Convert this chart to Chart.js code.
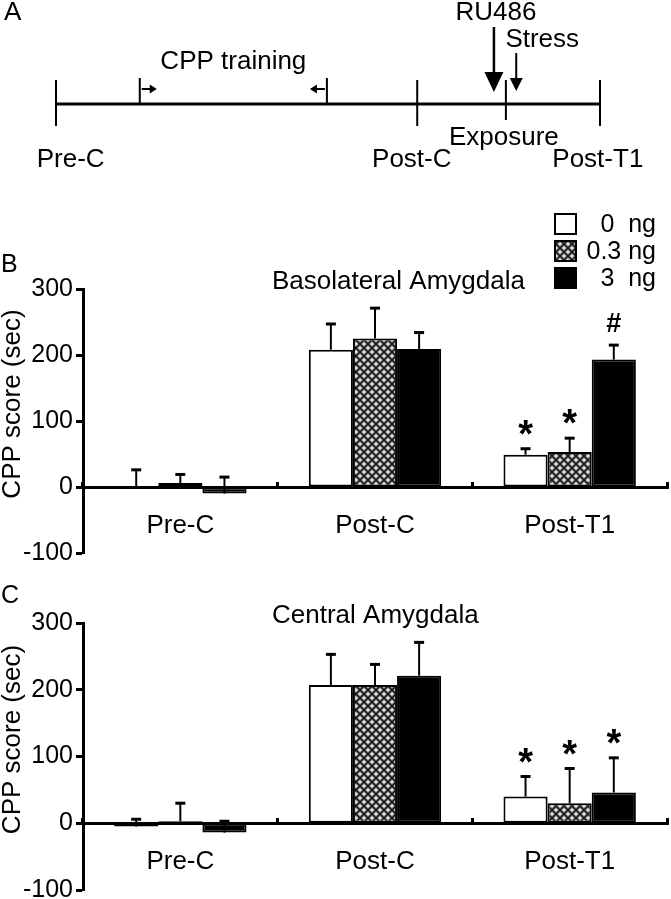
<!DOCTYPE html>
<html>
<head>
<meta charset="utf-8">
<script src="https://cdn.jsdelivr.net/npm/chart.js@4.4.1/dist/chart.umd.min.js"></script>
<style>
html,body{margin:0;padding:0;background:#fff;width:671px;height:899px;overflow:hidden;}
canvas{position:absolute;left:0;display:block;}
#cA{top:0;} #cB{top:200px;} #cC{top:570px;}
</style>
</head>
<body>
<canvas id="cA" width="671" height="200"></canvas>
<canvas id="cB" width="671" height="370"></canvas>
<canvas id="cC" width="671" height="329"></canvas>
<script>
// ---------------- data ----------------
const categories = ['Pre-C', 'Post-C', 'Post-T1'];
const doseLabels = ['0  ng', '0.3 ng', '3  ng'];
const yMin = -100, yMax = 300, yStep = 100;
const yAxisTitle = 'CPP score (sec)';

// Panel B: Basolateral Amygdala
const blaTitle = 'Basolateral Amygdala';
const blaMean0  = [0, 208, 49];
const blaErr0   = [26, 39, 9];
const blaMean03 = [6, 225, 53];
const blaErr03  = [13, 46, 21];
const blaMean3  = [-10, 209, 193];
const blaErr3   = [25, 25, 22];
const blaMarks0  = ['', '', '*'];
const blaMarks03 = ['', '', '*'];
const blaMarks3  = ['', '', '#'];

// Panel C: Central Amygdala
const ceaTitle = 'Central Amygdala';
const ceaMean0  = [-5, 207, 40];
const ceaErr0   = [11, 46, 30];
const ceaMean03 = [3, 207, 30];
const ceaErr03  = [27, 31, 52];
const ceaMean3  = [-14, 221, 46];
const ceaErr3   = [17, 50, 52];
const ceaMarks0  = ['', '', '*'];
const ceaMarks03 = ['', '', '*'];
const ceaMarks3  = ['', '', '*'];

// Panel A: timeline (arbitrary time units 0..100)
const phaseNames = ['Pre-C', 'Post-C', 'Post-T1'];
const phaseDays = [0, 66.4, 100];
const phaseLabelDays = [2.7, 65.4, 99.6];
const trainingDays = [15.4, 49.8];
const ru486Day = 80.5;
const exposureDay = 82.7;
const stressDay = 84.6;

// ---------------- setup ----------------
const FONT = '"Liberation Sans", Arial, Helvetica, sans-serif';
Chart.defaults.font.family = FONT;
Chart.defaults.font.size = 25;
Chart.defaults.color = '#000';

function crossPattern() {
  const s = 8;
  const c = document.createElement('canvas');
  c.width = s; c.height = s;
  const g = c.getContext('2d');
  g.fillStyle = '#8a8a8a';
  g.fillRect(0, 0, s, s);
  g.strokeStyle = '#111';
  g.lineWidth = 1.4;
  g.beginPath();
  g.moveTo(-1, -1); g.lineTo(s + 1, s + 1);
  g.moveTo(s + 1, -1); g.lineTo(-1, s + 1);
  g.stroke();
  g.fillStyle = '#fff';
  [[s / 2, 0], [0, s / 2], [s, s / 2], [s / 2, s]].forEach(([x, y]) => {
    g.fillRect(x - 1.5, y - 0.5, 3, 1);
    g.fillRect(x - 0.5, y - 1.5, 1, 3);
  });
  return g.createPattern(c, 'repeat');
}
const PATTERN = crossPattern();

const errorBarPlugin = {
  id: 'errorBars',
  afterDatasetsDraw(chart) {
    const ctx = chart.ctx, y = chart.scales.y;
    ctx.save();
    ctx.strokeStyle = '#000';
    ctx.fillStyle = '#000';
    chart.data.datasets.forEach((ds, i) => {
      const meta = chart.getDatasetMeta(i);
      meta.data.forEach((bar, j) => {
        const v = ds.data[j], e = ds.errors[j];
        const yb = y.getPixelForValue(v), yt = y.getPixelForValue(v + e);
        ctx.lineWidth = 2;
        ctx.beginPath(); ctx.moveTo(bar.x, yb); ctx.lineTo(bar.x, yt); ctx.stroke();
        ctx.lineWidth = 3;
        ctx.beginPath(); ctx.moveTo(bar.x - 5, yt); ctx.lineTo(bar.x + 5, yt); ctx.stroke();
        const m = ds.marks[j];
        if (m) {
          const cy = yt - 23;
          ctx.textAlign = 'center';
          ctx.textBaseline = 'alphabetic';
          if (m === '*') {
            ctx.font = 'bold 38px ' + FONT;
            ctx.fillText(m, bar.x, cy + 21);
          } else {
            ctx.font = 'bold 27px ' + FONT;
            ctx.fillText(m, bar.x, cy + 10);
          }
        }
      });
    });
    ctx.restore();
  }
};

const panelTextPlugin = {
  id: 'panelText',
  afterDraw(chart, args, opts) {
    const ctx = chart.ctx, a = chart.chartArea;
    ctx.save();
    ctx.fillStyle = '#000';
    ctx.font = '25px ' + FONT;
    ctx.textBaseline = 'alphabetic';
    ctx.textAlign = 'left';
    // panel letter
    ctx.fillText(opts.letter, 1, a.top - opts.letterDy);
    // title
    ctx.font = '26px ' + FONT;
    ctx.fillText(opts.title, 272, a.top);
    // y-axis title
    ctx.save();
    ctx.translate(13, (a.top + a.bottom) / 2 - 17);
    ctx.rotate(-Math.PI / 2);
    ctx.textAlign = 'center';
    ctx.textBaseline = 'middle';
    ctx.font = '26px ' + FONT;
    ctx.fillText(yAxisTitle, 0, 0);
    ctx.restore();
    // legend
    if (opts.legend) {
      chart.data.datasets.forEach((ds, i) => {
        const bx = 555, by = a.top - 75 + i * 27, bw = 21, bh = 20;
        ctx.fillStyle = ds.backgroundColor;
        ctx.fillRect(bx, by, bw, bh);
        ctx.strokeStyle = '#000';
        ctx.lineWidth = 2;
        ctx.strokeRect(bx, by, bw, bh);
        ctx.fillStyle = '#000';
        ctx.textAlign = 'right';
        ctx.textBaseline = 'middle';
        ctx.font = '25px ' + FONT;
        ctx.fillText(ds.label, 656, by + bh / 2 + 1);
      });
    }
    ctx.restore();
  }
};

function barDatasets(means, errs, marks) {
  const fills = ['#ffffff', PATTERN, '#000000'];
  return means.map((m, i) => ({
    label: doseLabels[i],
    data: m,
    errors: errs[i],
    marks: marks[i],
    backgroundColor: fills[i],
    borderColor: '#000',
    borderWidth: 2,
    borderSkipped: false,
    categoryPercentage: 0.68,
    barPercentage: 1.0
  }));
}

function barChart(id, means, errs, marks, title, letter, letterDy, legend, padTop, padBottom) {
  return new Chart(document.getElementById(id), {
    type: 'bar',
    data: { labels: categories, datasets: barDatasets(means, errs, marks) },
    options: {
      responsive: false,
      animation: false,
      events: [],
      layout: { padding: { top: padTop, bottom: padBottom, left: 0, right: 4 } },
      plugins: {
        legend: { display: false },
        tooltip: { enabled: false },
        panelText: { title: title, letter: letter, letterDy: letterDy, legend: legend }
      },
      scales: {
        x: {
          position: { y: 0 },
          offset: true,
          grid: { display: true, offset: true, drawOnChartArea: false, drawTicks: true,
                  tickLength: -7, tickWidth: 3, tickColor: '#000' },
          border: { display: true, width: 3, color: '#000' },
          ticks: { font: { size: 26 }, color: '#000', padding: 30, maxRotation: 0 }
        },
        y: {
          min: yMin, max: yMax,
          ticks: { stepSize: yStep, font: { size: 25 }, color: '#000', padding: 3 },
          grid: { display: true, drawOnChartArea: false, drawTicks: true,
                  tickLength: 7, tickWidth: 3, tickColor: '#000' },
          border: { display: true, width: 3, color: '#000' },
          afterFit(scale) { scale.width = 83; scale.paddingTop = 0; scale.paddingBottom = 0; }
        }
      }
    },
    plugins: [errorBarPlugin, panelTextPlugin]
  });
}

barChart('cB',
  [blaMean0, blaMean03, blaMean3], [blaErr0, blaErr03, blaErr3], [blaMarks0, blaMarks03, blaMarks3],
  blaTitle, 'B', 17, true, 89, 17);
barChart('cC',
  [ceaMean0, ceaMean03, ceaMean3], [ceaErr0, ceaErr03, ceaErr3], [ceaMarks0, ceaMarks03, ceaMarks3],
  ceaTitle, 'C', 20, false, 53, 9);

// ---------------- panel A timeline ----------------
const timelinePlugin = {
  id: 'timeline',
  afterDatasetsDraw(chart) {
    const ctx = chart.ctx, xs = chart.scales.x, ys = chart.scales.y;
    const X = v => xs.getPixelForValue(v);
    const y0 = ys.getPixelForValue(0);
    ctx.save();
    ctx.strokeStyle = '#000';
    ctx.fillStyle = '#000';
    ctx.lineWidth = 2;
    const vline = (x, up, down) => {
      ctx.beginPath(); ctx.moveTo(x, y0 - up); ctx.lineTo(x, y0 + down); ctx.stroke();
    };
    phaseDays.forEach(d => vline(X(d), 24, 22));
    vline(X(exposureDay), 24, 16);
    trainingDays.forEach(d => vline(X(d), 26, 0));
    // small training arrows
    const smallArrow = (x, dir) => {
      const yA = y0 - 15;
      ctx.lineWidth = 2;
      ctx.beginPath(); ctx.moveTo(x + dir * 2, yA); ctx.lineTo(x + dir * 12, yA); ctx.stroke();
      ctx.beginPath();
      ctx.moveTo(x + dir * 17, yA);
      ctx.lineTo(x + dir * 10, yA - 4.5);
      ctx.lineTo(x + dir * 10, yA + 4.5);
      ctx.closePath(); ctx.fill();
    };
    smallArrow(X(trainingDays[0]), 1);
    smallArrow(X(trainingDays[1]), -1);
    // down arrows
    const downArrow = (x, yFrom, yTip, headLen, halfW, lw) => {
      ctx.lineWidth = lw;
      ctx.beginPath(); ctx.moveTo(x, yFrom); ctx.lineTo(x, yTip - headLen + 1); ctx.stroke();
      ctx.beginPath();
      ctx.moveTo(x, yTip);
      ctx.lineTo(x - halfW, yTip - headLen);
      ctx.lineTo(x + halfW, yTip - headLen);
      ctx.closePath(); ctx.fill();
    };
    downArrow(X(ru486Day), y0 - 77, y0 - 12, 20, 9.5, 2.5);
    downArrow(X(stressDay), y0 - 51, y0 - 13, 13, 6.5, 2);
    // texts
    ctx.font = '26px ' + FONT;
    ctx.textBaseline = 'alphabetic';
    ctx.textAlign = 'center';
    ctx.fillText('CPP training', X((trainingDays[0] + trainingDays[1]) / 2), y0 - 35);
    ctx.fillText('RU486', X(ru486Day) + 2, y0 - 84);
    ctx.fillText('Stress', X(stressDay) + 26, y0 - 57);
    ctx.fillText('Exposure', X(exposureDay) - 2, y0 + 41);
    phaseNames.forEach((n, i) => ctx.fillText(n, X(phaseLabelDays[i]), y0 + 63));
    ctx.textAlign = 'left';
    ctx.fillText('A', 4, 20);
    ctx.restore();
  }
};

new Chart(document.getElementById('cA'), {
  type: 'scatter',
  data: {
    datasets: [{
      data: [{ x: phaseDays[0], y: 0 }, { x: phaseDays[phaseDays.length - 1], y: 0 }],
      showLine: true,
      borderColor: '#000',
      borderWidth: 3,
      pointRadius: 0,
      clip: false
    }]
  },
  options: {
    responsive: false,
    animation: false,
    events: [],
    layout: { padding: { left: 56, right: 71, top: 54, bottom: 46 } },
    plugins: { legend: { display: false }, tooltip: { enabled: false } },
    scales: {
      x: { type: 'linear', min: 0, max: 100, display: false },
      y: { min: -1, max: 1, display: false }
    }
  },
  plugins: [timelinePlugin]
});
</script>
</body>
</html>
